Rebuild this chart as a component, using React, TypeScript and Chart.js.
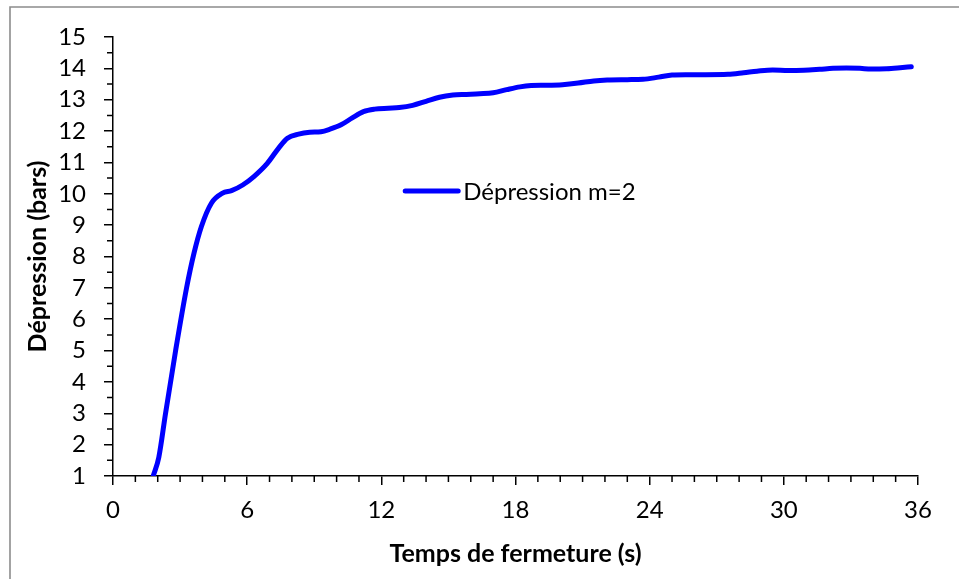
import React, { useEffect, useRef } from "react";
import { Chart, registerables } from "chart.js";

Chart.register(...registerables);

const seriesLabel = "Dépression m=2";
const xTitle = "Temps de fermeture (s)";
const yTitle = "Dépression (bars)";

const timeValues = [
  1.8, 2.05, 2.35, 2.8, 3.29, 3.62, 3.95, 4.4, 4.9, 5.3, 5.8,
  6.3, 6.9, 7.4, 7.8, 8.3, 8.8, 9.3, 9.7, 10.2, 10.7, 11.2, 11.7, 12.3, 12.8, 13.4,
  14.0, 14.6, 15.2, 15.8, 16.4, 17.0, 17.6, 18.2, 18.7, 19.4, 20.1, 20.8, 21.5, 22.1,
  23.0, 23.7, 24.4, 25.0, 25.6, 26.5, 27.5, 28.2, 28.8, 29.5, 30.2, 30.9, 31.6, 32.2,
  32.8, 33.4, 33.9, 34.6, 35.2, 35.7,
];
const pressureValues = [
  1.0, 1.6, 3.0, 5.0, 7.0, 8.1, 8.95, 9.7, 10.02, 10.1, 10.28,
  10.55, 10.97, 11.45, 11.77, 11.9, 11.96, 11.98, 12.06, 12.2, 12.42, 12.62, 12.7, 12.73, 12.75, 12.82,
  12.95, 13.08, 13.15, 13.17, 13.19, 13.22, 13.32, 13.41, 13.45, 13.46, 13.48, 13.53, 13.6, 13.63,
  13.64, 13.65, 13.72, 13.79, 13.8, 13.8, 13.81, 13.86, 13.91, 13.95, 13.93, 13.94, 13.97, 14.0,
  14.01, 14.0, 13.98, 13.99, 14.02, 14.05,
];

const xMin = 0;
const xMax = 36;
const xMajorStep = 6;
const xMinorStep = 1;
const yMin = 1;
const yMax = 15;
const yMajorStep = 1;
const yMinorStep = 0.5;

const FONT = "Lato, 'Open Sans', sans-serif";

export default function App() {
  const canvasRef = useRef<HTMLCanvasElement | null>(null);

  useEffect(() => {
    if (!canvasRef.current) return;

    const borderPlugin = {
      id: "outerBorder",
      beforeDraw(chart: any) {
        const ctx = chart.ctx;
        ctx.save();
        ctx.strokeStyle = "#8c8c8c";
        ctx.lineWidth = 1.6;
        ctx.beginPath();
        ctx.moveTo(10, chart.height + 5);
        ctx.lineTo(10, 7);
        ctx.lineTo(chart.width + 5, 7);
        ctx.stroke();
        ctx.restore();
      },
    };

    const minorTickPlugin = {
      id: "minorTicks",
      afterDraw(chart: any) {
        const ctx = chart.ctx;
        const xs = chart.scales.x;
        const ys = chart.scales.y;
        const area = chart.chartArea;
        ctx.save();
        ctx.strokeStyle = "#000";
        ctx.lineWidth = 1.5;
        ctx.beginPath();
        for (let v = xMin; v <= xMax + 1e-9; v += xMinorStep) {
          if (Math.abs(v / xMajorStep - Math.round(v / xMajorStep)) < 1e-6) continue;
          const px = xs.getPixelForValue(v);
          ctx.moveTo(px, area.bottom);
          ctx.lineTo(px, area.bottom + 6);
        }
        for (let v = yMin; v <= yMax + 1e-9; v += yMinorStep) {
          if (Math.abs(v / yMajorStep - Math.round(v / yMajorStep)) < 1e-6) continue;
          const py = ys.getPixelForValue(v);
          ctx.moveTo(area.left, py);
          ctx.lineTo(area.left - 6, py);
        }
        ctx.stroke();
        ctx.restore();
      },
    };

    const legendPlugin = {
      id: "insideLegend",
      afterDraw(chart: any) {
        const ctx = chart.ctx;
        const area = chart.chartArea;
        const ds = chart.data.datasets[0];
        const lx = area.left + (area.right - area.left) * 0.363;
        const ly = area.top + (area.bottom - area.top) * 0.351;
        ctx.save();
        ctx.strokeStyle = ds.borderColor;
        ctx.lineWidth = 5;
        ctx.lineCap = "round";
        ctx.beginPath();
        ctx.moveTo(lx, ly);
        ctx.lineTo(lx + 53, ly);
        ctx.stroke();
        ctx.fillStyle = "#000";
        ctx.font = `24px ${FONT}`;
        ctx.textBaseline = "middle";
        ctx.textAlign = "left";
        ctx.fillText(ds.label, lx + 58, ly + 1);
        ctx.restore();
      },
    };

    const points = timeValues.map((t, i) => ({ x: t, y: pressureValues[i] }));

    const chart = new Chart(canvasRef.current, {
      type: "line",
      data: {
        datasets: [
          {
            label: seriesLabel,
            data: points,
            borderColor: "#0000FF",
            backgroundColor: "#0000FF",
            borderWidth: 5,
            pointRadius: 0,
            borderCapStyle: "round",
            borderJoinStyle: "round",
            cubicInterpolationMode: "monotone",
            fill: false,
          },
        ],
      },
      options: {
        animation: false,
        responsive: true,
        maintainAspectRatio: false,
        layout: { padding: { top: 37, right: 41, left: 0, bottom: 0 } },
        plugins: {
          legend: { display: false },
          tooltip: { enabled: false },
        },
        scales: {
          x: {
            type: "linear",
            min: xMin,
            max: xMax,
            afterFit(scale: any) {
              scale.height = 103;
            },
            border: { display: true, color: "#000", width: 1.5 },
            grid: {
              display: true,
              drawOnChartArea: false,
              drawTicks: true,
              tickLength: 9,
              color: "#000",
              lineWidth: 1.5,
            },
            ticks: {
              stepSize: xMajorStep,
              autoSkip: false,
              color: "#000",
              padding: 11,
              maxRotation: 0,
              font: { family: FONT, size: 24 },
            },
            title: {
              display: true,
              text: xTitle,
              color: "#000",
              font: { family: FONT, size: 25, weight: "bold" },
              padding: { top: 0, bottom: 10 },
            },
          },
          y: {
            type: "linear",
            min: yMin,
            max: yMax,
            afterFit(scale: any) {
              scale.width = 113;
            },
            border: { display: true, color: "#000", width: 1.5 },
            grid: {
              display: true,
              drawOnChartArea: false,
              drawTicks: true,
              tickLength: 9,
              color: "#000",
              lineWidth: 1.5,
            },
            ticks: {
              stepSize: yMajorStep,
              autoSkip: false,
              color: "#000",
              padding: 18,
              font: { family: FONT, size: 24 },
            },
            title: {
              display: true,
              text: yTitle,
              color: "#000",
              font: { family: FONT, size: 25, weight: "bold" },
              padding: { top: 23, bottom: 0 },
            },
          },
        },
      },
      plugins: [borderPlugin, minorTickPlugin, legendPlugin],
    });

    return () => chart.destroy();
  }, []);

  return (
    <div style={{ position: "absolute", left: 0, top: 0, width: 959, height: 579, background: "#fff" }}>
      <canvas ref={canvasRef} />
    </div>
  );
}
